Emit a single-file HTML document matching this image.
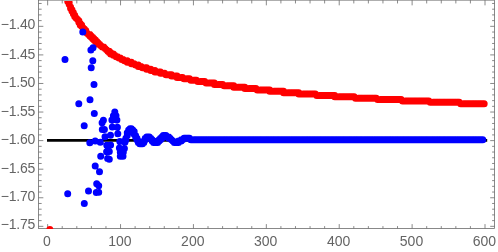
<!DOCTYPE html><html><head><meta charset="utf-8"><style>html,body{margin:0;padding:0;background:#fff}svg{display:block}text{font-family:"Liberation Sans",sans-serif;font-size:14px;fill:#646464}</style></head><body><div style="position:relative;width:498px;height:252px;overflow:hidden">
<svg width="498" height="252" viewBox="0 0 498 252">
<rect width="498" height="252" fill="#fff"/>
<defs><clipPath id="c"><rect x="38.55" y="0.9" width="456.05" height="228.1"/></clipPath></defs>
<rect x="38.55" y="0.15" width="456.05" height="228.35" fill="none" stroke="#6c6c6c" stroke-width="0.8"/>
<path d="M38.55 226.33h4.8M494.6 226.33h-4.4M38.55 220.62h3.1M494.6 220.62h-2.5M38.55 214.90h3.1M494.6 214.90h-2.5M38.55 209.19h3.1M494.6 209.19h-2.5M38.55 203.47h3.1M494.6 203.47h-2.5M38.55 197.76h4.8M494.6 197.76h-4.4M38.55 192.04h3.1M494.6 192.04h-2.5M38.55 186.33h3.1M494.6 186.33h-2.5M38.55 180.62h3.1M494.6 180.62h-2.5M38.55 174.90h3.1M494.6 174.90h-2.5M38.55 169.19h4.8M494.6 169.19h-4.4M38.55 163.47h3.1M494.6 163.47h-2.5M38.55 157.76h3.1M494.6 157.76h-2.5M38.55 152.04h3.1M494.6 152.04h-2.5M38.55 146.33h3.1M494.6 146.33h-2.5M38.55 140.62h4.8M494.6 140.62h-4.4M38.55 134.90h3.1M494.6 134.90h-2.5M38.55 129.19h3.1M494.6 129.19h-2.5M38.55 123.47h3.1M494.6 123.47h-2.5M38.55 117.76h3.1M494.6 117.76h-2.5M38.55 112.04h4.8M494.6 112.04h-4.4M38.55 106.33h3.1M494.6 106.33h-2.5M38.55 100.62h3.1M494.6 100.62h-2.5M38.55 94.90h3.1M494.6 94.90h-2.5M38.55 89.19h3.1M494.6 89.19h-2.5M38.55 83.47h4.8M494.6 83.47h-4.4M38.55 77.76h3.1M494.6 77.76h-2.5M38.55 72.04h3.1M494.6 72.04h-2.5M38.55 66.33h3.1M494.6 66.33h-2.5M38.55 60.62h3.1M494.6 60.62h-2.5M38.55 54.90h4.8M494.6 54.90h-4.4M38.55 49.19h3.1M494.6 49.19h-2.5M38.55 43.47h3.1M494.6 43.47h-2.5M38.55 37.76h3.1M494.6 37.76h-2.5M38.55 32.04h3.1M494.6 32.04h-2.5M38.55 26.33h4.8M494.6 26.33h-4.4M38.55 20.62h3.1M494.6 20.62h-2.5M38.55 14.90h3.1M494.6 14.90h-2.5M38.55 9.19h3.1M494.6 9.19h-2.5M38.55 3.47h3.1M494.6 3.47h-2.5M47.65 228.5v-4.4M47.65 0.15v5.2M62.23 228.5v-2.4M62.23 0.15v3.3M76.81 228.5v-2.4M76.81 0.15v3.3M91.39 228.5v-2.4M91.39 0.15v3.3M105.96 228.5v-2.4M105.96 0.15v3.3M120.54 228.5v-4.4M120.54 0.15v5.2M135.12 228.5v-2.4M135.12 0.15v3.3M149.70 228.5v-2.4M149.70 0.15v3.3M164.28 228.5v-2.4M164.28 0.15v3.3M178.86 228.5v-2.4M178.86 0.15v3.3M193.43 228.5v-4.4M193.43 0.15v5.2M208.01 228.5v-2.4M208.01 0.15v3.3M222.59 228.5v-2.4M222.59 0.15v3.3M237.17 228.5v-2.4M237.17 0.15v3.3M251.75 228.5v-2.4M251.75 0.15v3.3M266.33 228.5v-4.4M266.33 0.15v5.2M280.90 228.5v-2.4M280.90 0.15v3.3M295.48 228.5v-2.4M295.48 0.15v3.3M310.06 228.5v-2.4M310.06 0.15v3.3M324.64 228.5v-2.4M324.64 0.15v3.3M339.22 228.5v-4.4M339.22 0.15v5.2M353.80 228.5v-2.4M353.80 0.15v3.3M368.37 228.5v-2.4M368.37 0.15v3.3M382.95 228.5v-2.4M382.95 0.15v3.3M397.53 228.5v-2.4M397.53 0.15v3.3M412.11 228.5v-4.4M412.11 0.15v5.2M426.69 228.5v-2.4M426.69 0.15v3.3M441.27 228.5v-2.4M441.27 0.15v3.3M455.85 228.5v-2.4M455.85 0.15v3.3M470.42 228.5v-2.4M470.42 0.15v3.3M485.00 228.5v-4.4M485.00 0.15v5.2" stroke="#6c6c6c" stroke-width="0.8" fill="none"/>
<g clip-path="url(#c)">
<line x1="47" y1="140.4" x2="487.2" y2="140.4" stroke="#000" stroke-width="2.8"/>
<path d="M66.40 -4.15h0M66.40 -2.77h0M67.78 -1.38h0M67.78 1.38h0M69.17 2.77h0M69.17 4.15h0M70.55 6.92h0M70.55 8.30h0M71.93 9.68h0M71.93 11.07h0M73.32 12.45h0M73.32 13.83h0M74.70 15.22h0M74.70 16.60h0M76.08 17.98h0M77.47 19.37h0M78.85 20.75h0M78.85 22.13h0M80.23 23.52h0M80.23 24.90h0M81.62 24.90h0M81.62 26.28h0M83.00 27.67h0M84.38 29.05h0M84.38 30.43h0M85.77 30.43h0M85.77 31.82h0M87.15 33.20h0M88.53 34.58h0M89.92 34.58h0M89.92 35.97h0M91.30 35.97h0M91.30 37.35h0M92.68 37.35h0M92.68 38.73h0M94.07 38.73h0M94.07 40.12h0M95.45 40.12h0M95.45 41.50h0M96.83 41.50h0M96.83 42.88h0M98.22 42.88h0M98.22 44.27h0M99.60 44.27h0M100.98 45.65h0M102.37 47.03h0M103.75 47.03h0M105.13 48.42h0M106.52 49.80h0M107.90 51.18h0M109.28 51.18h0M109.28 52.57h0M110.67 52.57h0M110.67 53.95h0M112.05 53.95h0M113.43 53.95h0M113.43 55.33h0M114.82 55.33h0M116.20 56.72h0M117.58 56.72h0M118.97 58.10h0M120.35 58.10h0M121.73 59.48h0M123.12 59.48h0M124.50 60.87h0M125.88 60.87h0M127.27 60.87h0M127.27 62.25h0M128.65 62.25h0M130.03 62.25h0M131.42 62.25h0M131.42 63.63h0M132.80 63.63h0M134.18 63.63h0M135.57 65.02h0M136.95 65.02h0M138.33 65.02h0M138.33 66.40h0M139.72 66.40h0M141.10 66.40h0M142.48 67.78h0M143.87 67.78h0M145.25 67.78h0M146.63 67.78h0M146.63 69.17h0M148.02 69.17h0M149.40 69.17h0M150.78 69.17h0M150.78 70.55h0M152.17 70.55h0M153.55 70.55h0M154.93 70.55h0M154.93 71.93h0M156.32 71.93h0M157.70 71.93h0M159.08 71.93h0M160.47 71.93h0M160.47 73.32h0M161.85 73.32h0M163.23 73.32h0M164.62 73.32h0M166.00 74.70h0M167.38 74.70h0M168.77 74.70h0M170.15 74.70h0M171.53 74.70h0M171.53 76.08h0M172.92 76.08h0M174.30 76.08h0M175.68 76.08h0M177.07 76.08h0M177.07 77.47h0M178.45 77.47h0M179.83 77.47h0M181.22 77.47h0M182.60 77.47h0M183.98 78.85h0M185.37 78.85h0M186.75 78.85h0M188.13 78.85h0M189.52 78.85h0M190.90 80.23h0M192.28 80.23h0M193.67 80.23h0M195.05 80.23h0M196.43 80.23h0M197.82 81.62h0M199.20 81.62h0M200.58 81.62h0M201.97 81.62h0M203.35 81.62h0M204.73 81.62h0M206.12 83.00h0M207.50 83.00h0M208.88 83.00h0M210.27 83.00h0M211.65 83.00h0M213.03 83.00h0M214.42 83.00h0M214.42 84.38h0M215.80 84.38h0M217.18 84.38h0M218.57 84.38h0M219.95 84.38h0M221.33 84.38h0M222.72 84.38h0M224.10 85.77h0M225.48 85.77h0M226.87 85.77h0M228.25 85.77h0M229.63 85.77h0M231.02 85.77h0M232.40 85.77h0M233.78 85.77h0M233.78 87.15h0M235.17 87.15h0M236.55 87.15h0M237.93 87.15h0M239.32 87.15h0M240.70 87.15h0M242.08 87.15h0M243.47 87.15h0M244.85 87.15h0M244.85 88.53h0M246.23 88.53h0M247.62 88.53h0M249.00 88.53h0M250.38 88.53h0M251.77 88.53h0M253.15 88.53h0M254.53 88.53h0M255.92 88.53h0M257.30 89.92h0M258.68 89.92h0M260.07 89.92h0M261.45 89.92h0M262.83 89.92h0M264.22 89.92h0M265.60 89.92h0M266.98 89.92h0M268.37 89.92h0M269.75 89.92h0M269.75 91.30h0M271.13 91.30h0M272.52 91.30h0M273.90 91.30h0M275.28 91.30h0M276.67 91.30h0M278.05 91.30h0M279.43 91.30h0M280.82 91.30h0M282.20 91.30h0M283.58 91.30h0M283.58 92.68h0M284.97 92.68h0M286.35 92.68h0M287.73 92.68h0M289.12 92.68h0M290.50 92.68h0M291.88 92.68h0M293.27 92.68h0M294.65 92.68h0M296.03 92.68h0M297.42 92.68h0M298.80 92.68h0M298.80 94.07h0M300.18 94.07h0M301.57 94.07h0M302.95 94.07h0M304.33 94.07h0M305.72 94.07h0M307.10 94.07h0M308.48 94.07h0M309.87 94.07h0M311.25 94.07h0M312.63 94.07h0M314.02 94.07h0M315.40 94.07h0M316.78 95.45h0M318.17 95.45h0M319.55 95.45h0M320.93 95.45h0M322.32 95.45h0M323.70 95.45h0M325.08 95.45h0M326.47 95.45h0M327.85 95.45h0M329.23 95.45h0M330.62 95.45h0M332.00 95.45h0M333.38 95.45h0M334.77 95.45h0M334.77 96.83h0M336.15 96.83h0M337.53 96.83h0M338.92 96.83h0M340.30 96.83h0M341.68 96.83h0M343.07 96.83h0M344.45 96.83h0M345.83 96.83h0M347.22 96.83h0M348.60 96.83h0M349.98 96.83h0M351.37 96.83h0M352.75 96.83h0M354.13 96.83h0M355.52 98.22h0M356.90 98.22h0M358.28 98.22h0M359.67 98.22h0M361.05 98.22h0M362.43 98.22h0M363.82 98.22h0M365.20 98.22h0M366.58 98.22h0M367.97 98.22h0M369.35 98.22h0M370.73 98.22h0M372.12 98.22h0M373.50 98.22h0M374.88 98.22h0M376.27 98.22h0M377.65 99.60h0M379.03 99.60h0M380.42 99.60h0M381.80 99.60h0M383.18 99.60h0M384.57 99.60h0M385.95 99.60h0M387.33 99.60h0M388.72 99.60h0M390.10 99.60h0M391.48 99.60h0M392.87 99.60h0M394.25 99.60h0M395.63 99.60h0M397.02 99.60h0M398.40 99.60h0M399.78 99.60h0M401.17 99.60h0M402.55 100.98h0M403.93 100.98h0M405.32 100.98h0M406.70 100.98h0M408.08 100.98h0M409.47 100.98h0M410.85 100.98h0M412.23 100.98h0M413.62 100.98h0M415.00 100.98h0M416.38 100.98h0M417.77 100.98h0M419.15 100.98h0M420.53 100.98h0M421.92 100.98h0M423.30 100.98h0M424.68 100.98h0M426.07 100.98h0M427.45 100.98h0M428.83 100.98h0M430.22 102.37h0M431.60 102.37h0M432.98 102.37h0M434.37 102.37h0M435.75 102.37h0M437.13 102.37h0M438.52 102.37h0M439.90 102.37h0M441.28 102.37h0M442.67 102.37h0M444.05 102.37h0M445.43 102.37h0M446.82 102.37h0M448.20 102.37h0M449.58 102.37h0M450.97 102.37h0M452.35 102.37h0M453.73 102.37h0M455.12 102.37h0M456.50 102.37h0M457.88 102.37h0M459.27 102.37h0M460.65 103.75h0M462.03 103.75h0M463.42 103.75h0M464.80 103.75h0M466.18 103.75h0M467.57 103.75h0M468.95 103.75h0M470.33 103.75h0M471.72 103.75h0M473.10 103.75h0M474.48 103.75h0M475.87 103.75h0M477.25 103.75h0M478.63 103.75h0M480.02 103.75h0M481.40 103.75h0M482.78 103.75h0M484.17 103.75h0M49.85 229.6h0" stroke="#f00" stroke-width="7" stroke-linecap="round" fill="none"/>
<path d="M82.8 32h0M93 47.8h0M90.9 50h0M65 59.6h0M92.8 60.7h0M91.2 67.8h0M94 84.5h0M90 99.7h0M78.8 103.8h0M94.3 113.5h0M84.2 125.8h0M103.4 120.2h0M102.1 122.8h0M102.3 129.5h0M104.4 129.5h0M114.8 112h0M116 115.8h0M113.4 115.8h0M111.9 119.9h0M116.9 119.9h0M112.3 126.9h0M117.4 127.2h0M117.8 133.7h0M110.5 135.2h0M105 136.7h0M89.8 142.8h0M95.2 141.1h0M100.3 142.3h0M106.8 145.3h0M110.6 145h0M106.6 151.8h0M109.3 151.4h0M107.6 158.6h0M109.3 159.2h0M100.7 156.3h0M95.2 166.1h0M99.5 171.7h0M96.7 183.7h0M98.7 185.8h0M96.3 192.4h0M98.7 192.2h0M88.5 191h0M67.7 193.7h0M84.3 203.5h0M119.8 141.4h0M124.9 142.2h0M119.4 148.1h0M124.4 148.5h0M120.3 152.3h0M123.3 152.3h0M120.3 156.3h0M123 156.3h0" stroke="#00f" stroke-width="7" stroke-linecap="round" fill="none"/>
<path d="M124.50 141.10h0M125.88 139.72h0M125.88 138.33h0M127.27 135.57h0M127.27 132.80h0M128.65 131.42h0M128.65 130.03h0M130.03 128.65h0M131.42 128.65h0M132.80 130.03h0M134.18 131.42h0M134.18 134.18h0M135.57 135.57h0M135.57 136.95h0M136.95 138.33h0M136.95 139.72h0M138.33 141.10h0M138.33 142.48h0M139.72 143.87h0M141.10 143.87h0M142.48 143.87h0M143.87 142.48h0M143.87 141.10h0M145.25 139.72h0M145.25 138.33h0M146.63 138.33h0M146.63 136.95h0M148.02 136.95h0M149.40 136.95h0M150.78 138.33h0M152.17 139.72h0M152.17 141.10h0M153.55 141.10h0M153.55 142.48h0M154.93 142.48h0M156.32 142.48h0M157.70 142.48h0M157.70 141.10h0M159.08 141.10h0M159.08 139.72h0M160.47 139.72h0M160.47 138.33h0M161.85 138.33h0M161.85 136.95h0M163.23 136.95h0M163.23 135.57h0M164.62 135.57h0M166.00 135.57h0M167.38 136.95h0M168.77 136.95h0M168.77 138.33h0M170.15 138.33h0M171.53 139.72h0M172.92 141.10h0M174.30 142.48h0M175.68 142.48h0M177.07 142.48h0M178.45 142.48h0M178.45 141.10h0M179.83 141.10h0M181.22 141.10h0M181.22 139.72h0M182.60 139.72h0M183.98 138.33h0M185.37 138.33h0M186.75 138.33h0M188.13 138.33h0M189.52 138.33h0M190.90 139.72h0M192.28 139.72h0M193.67 139.72h0M195.05 139.72h0M196.43 139.72h0M197.82 139.72h0M199.20 139.72h0M200.58 139.72h0M201.97 139.72h0M203.35 139.72h0M204.73 139.72h0M206.12 139.72h0M207.50 139.72h0M208.88 139.72h0M210.27 139.72h0M211.65 139.72h0M213.03 139.72h0M214.42 139.72h0M215.80 139.72h0M217.18 139.72h0M218.57 139.72h0M219.95 139.72h0M221.33 139.72h0M222.72 139.72h0M224.10 139.72h0M225.48 139.72h0M226.87 139.72h0M228.25 139.72h0M229.63 139.72h0M231.02 139.72h0M232.40 139.72h0M233.78 139.72h0M235.17 139.72h0M236.55 139.72h0M237.93 139.72h0M239.32 139.72h0M240.70 139.72h0M242.08 139.72h0M243.47 139.72h0M244.85 139.72h0M246.23 139.72h0M247.62 139.72h0M249.00 139.72h0M250.38 139.72h0M251.77 139.72h0M253.15 139.72h0M254.53 139.72h0M255.92 139.72h0M257.30 139.72h0M258.68 139.72h0M260.07 139.72h0M261.45 139.72h0M262.83 139.72h0M264.22 139.72h0M265.60 139.72h0M266.98 139.72h0M268.37 139.72h0M269.75 139.72h0M271.13 139.72h0M272.52 139.72h0M273.90 139.72h0M275.28 139.72h0M276.67 139.72h0M278.05 139.72h0M279.43 139.72h0M280.82 139.72h0M282.20 139.72h0M283.58 139.72h0M284.97 139.72h0M286.35 139.72h0M287.73 139.72h0M289.12 139.72h0M290.50 139.72h0M291.88 139.72h0M293.27 139.72h0M294.65 139.72h0M296.03 139.72h0M297.42 139.72h0M298.80 139.72h0M300.18 139.72h0M301.57 139.72h0M302.95 139.72h0M304.33 139.72h0M305.72 139.72h0M307.10 139.72h0M308.48 139.72h0M309.87 139.72h0M311.25 139.72h0M312.63 139.72h0M314.02 139.72h0M315.40 139.72h0M316.78 139.72h0M318.17 139.72h0M319.55 139.72h0M320.93 139.72h0M322.32 139.72h0M323.70 139.72h0M325.08 139.72h0M326.47 139.72h0M327.85 139.72h0M329.23 139.72h0M330.62 139.72h0M332.00 139.72h0M333.38 139.72h0M334.77 139.72h0M336.15 139.72h0M337.53 139.72h0M338.92 139.72h0M340.30 139.72h0M341.68 139.72h0M343.07 139.72h0M344.45 139.72h0M345.83 139.72h0M347.22 139.72h0M348.60 139.72h0M349.98 139.72h0M351.37 139.72h0M352.75 139.72h0M354.13 139.72h0M355.52 139.72h0M356.90 139.72h0M358.28 139.72h0M359.67 139.72h0M361.05 139.72h0M362.43 139.72h0M363.82 139.72h0M365.20 139.72h0M366.58 139.72h0M367.97 139.72h0M369.35 139.72h0M370.73 139.72h0M372.12 139.72h0M373.50 139.72h0M374.88 139.72h0M376.27 139.72h0M377.65 139.72h0M379.03 139.72h0M380.42 139.72h0M381.80 139.72h0M383.18 139.72h0M384.57 139.72h0M385.95 139.72h0M387.33 139.72h0M388.72 139.72h0M390.10 139.72h0M391.48 139.72h0M392.87 139.72h0M394.25 139.72h0M395.63 139.72h0M397.02 139.72h0M398.40 139.72h0M399.78 139.72h0M401.17 139.72h0M402.55 139.72h0M403.93 139.72h0M405.32 139.72h0M406.70 139.72h0M408.08 139.72h0M409.47 139.72h0M410.85 139.72h0M412.23 139.72h0M413.62 139.72h0M415.00 139.72h0M416.38 139.72h0M417.77 139.72h0M419.15 139.72h0M420.53 139.72h0M421.92 139.72h0M423.30 139.72h0M424.68 139.72h0M426.07 139.72h0M427.45 139.72h0M428.83 139.72h0M430.22 139.72h0M431.60 139.72h0M432.98 139.72h0M434.37 139.72h0M435.75 139.72h0M437.13 139.72h0M438.52 139.72h0M439.90 139.72h0M441.28 139.72h0M442.67 139.72h0M444.05 139.72h0M445.43 139.72h0M446.82 139.72h0M448.20 139.72h0M449.58 139.72h0M450.97 139.72h0M452.35 139.72h0M453.73 139.72h0M455.12 139.72h0M456.50 139.72h0M457.88 139.72h0M459.27 139.72h0M460.65 139.72h0M462.03 139.72h0M463.42 139.72h0M464.80 139.72h0M466.18 139.72h0M467.57 139.72h0M468.95 139.72h0M470.33 139.72h0M471.72 139.72h0M473.10 139.72h0M474.48 139.72h0M475.87 139.72h0M477.25 139.72h0M478.63 139.72h0M480.02 139.72h0M481.40 139.72h0M482.78 139.72h0" stroke="#00f" stroke-width="7" stroke-linecap="round" fill="none"/>
</g>
</svg>
<svg width="498" height="252" viewBox="0 0 498 252" style="position:absolute;left:0;top:0;filter:grayscale(1);will-change:transform">
<text x="35.1" y="29" text-anchor="end" letter-spacing="-0.2">−1.40</text>
<text x="35.1" y="59" text-anchor="end" letter-spacing="-0.2">−1.45</text>
<text x="35.1" y="87" text-anchor="end" letter-spacing="-0.2">−1.50</text>
<text x="35.1" y="116" text-anchor="end" letter-spacing="-0.2">−1.55</text>
<text x="35.1" y="144" text-anchor="end" letter-spacing="-0.2">−1.60</text>
<text x="35.1" y="173" text-anchor="end" letter-spacing="-0.2">−1.65</text>
<text x="35.1" y="201" text-anchor="end" letter-spacing="-0.2">−1.70</text>
<text x="35.1" y="229" text-anchor="end" letter-spacing="-0.2">−1.75</text>
<text x="47.0" y="246" text-anchor="middle">0</text>
<text x="119.9" y="246" text-anchor="middle">100</text>
<text x="192.8" y="246" text-anchor="middle">200</text>
<text x="265.7" y="246" text-anchor="middle">300</text>
<text x="338.6" y="246" text-anchor="middle">400</text>
<text x="411.5" y="246" text-anchor="middle">500</text>
<text x="484.4" y="246" text-anchor="middle">600</text>
</svg></div></body></html>
